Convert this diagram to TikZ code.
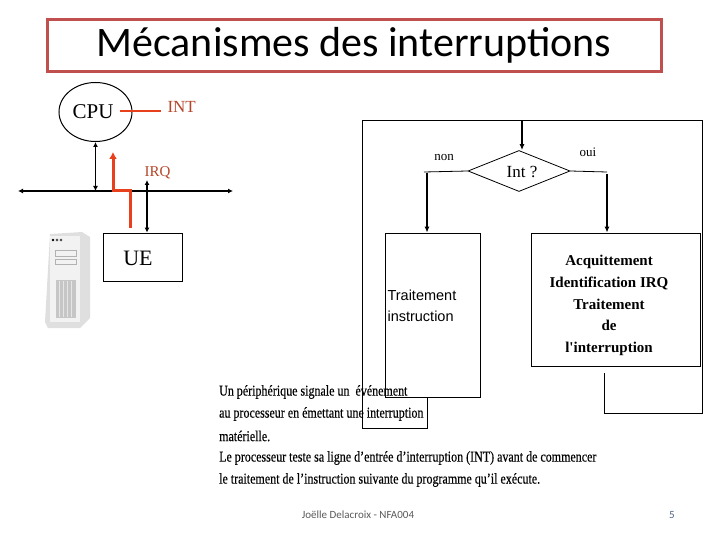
\documentclass[tikz,border=0pt]{standalone}
\usepackage{fontspec}
\setmainfont{Liberation Serif}
\newfontfamily\calfont{Carlito}
\newfontfamily\arsfont{Liberation Sans}
\newfontfamily\plainserif{Liberation Serif}[Ligatures=ResetAll]
\newfontfamily\narrowfont{Liberation Serif}[FakeStretch=0.8,FakeBold=0.3]
\usetikzlibrary{arrows.meta,shapes.geometric}
\definecolor{tred}{HTML}{C0504D}
\definecolor{ored}{HTML}{E8401C}
\definecolor{bred}{HTML}{B5452A}
\begin{document}
\begin{tikzpicture}[x=1pt,y=-1pt,
  ln/.style={line width=0.8pt},
  arr/.style={line width=1.4pt,-{Latex[length=6pt,width=5pt]}},
  darr/.style={line width=1.2pt,{Latex[length=5pt,width=5pt]}-{Latex[length=5pt,width=5pt]}},
  bx/.style={draw,line width=0.8pt,inner sep=0pt},
  sr/.style={font=\narrowfont\fontsize{15}{22}\selectfont,anchor=west,inner sep=0pt}]
\useasboundingbox (0,0) rectangle (720,540);
% title
\node[draw=tred,line width=3pt,minimum width=614pt,minimum height=52pt,inner sep=0pt] (title) at (354,46) {};
\node[font=\calfont\fontsize{42}{46}\selectfont] (tt) at (354,45) {Mécanismes des interruptions};
% CPU
\node[draw,ellipse,line width=1pt,minimum width=73pt,minimum height=59pt,inner sep=0pt] (cpu) at (95.5,112) {};
\node[font=\fontsize{21}{22}\selectfont] (cput) at (93,112) {CPU};
\coordinate (i1) at (120,111); \coordinate (i2) at (161,111);
\draw[ored,line width=1.3pt] (i1) -- (i2);
\node[bred,font=\fontsize{17}{20}\selectfont,anchor=west] (int) at (164,107) {INT};
% bus
\coordinate (b1) at (18,191); \coordinate (b2) at (233,191);
\draw[darr] (b1) -- (b2);
\coordinate (c1) at (95.5,142); \coordinate (c2) at (95.5,191);
\draw[darr] (c1) -- (c2);
% red arrow
\coordinate (r1) at (130,228); \coordinate (r2) at (113,152);
\draw[ored,line width=3pt,-{Latex[length=7pt,width=8pt]}] (r1) |- (121,191) -| (r2);
% UE
\node[bx,minimum width=79pt,minimum height=48pt] (ue) at (142.5,257) {};
\node[font=\fontsize{22}{24}\selectfont] (uet) at (138,258) {UE};
\coordinate (q1) at (147,180);
\draw[darr] (q1) -- (ue.north -| q1);
\node[bred,font=\fontsize{15}{18}\selectfont,anchor=west] (irq) at (141,173) {IRQ};
% computer
\fill[gray!25] (50,234) -- (82,232) -- (90,237) -- (90,318) -- (80,328) -- (48,328) -- (45,322) -- cycle;
\fill[gray!10] (50,236) rectangle (80,322);
\fill[gray!45] (56,280) rectangle (76,318);
\foreach \xx in {59,63,67,71}{\draw[gray!20,line width=1pt] (\xx,281) -- (\xx,317);}
\draw[gray!60] (55,250) rectangle (76,256);
\draw[gray!60] (55,259) rectangle (76,264);
\fill[black] (53,240) circle (1.3); \draw (57,240) circle (1.2); \draw (61,240) circle (1.2);
% flowchart
\coordinate (tl) at (362,120); \coordinate (tr) at (702,120);
\coordinate (bl) at (362,428);
\draw[ln] (bl) -- (tl) -- (tr);
\node[draw,diamond,aspect=2.5,line width=0.8pt,minimum width=102pt,minimum height=41pt,inner sep=0pt] (dia) at (519,171) {};
\node[font=\fontsize{17}{20}\selectfont] (diat) at (522,172) {Int ?};
\coordinate (dtop) at (522,120);
\draw[arr] (dtop) -- (dia.north -| dtop);
\node[bx,minimum width=95pt,minimum height=164pt] (lb) at (432.5,315) {};
\node[bx,minimum width=169pt,minimum height=133pt] (rb) at (615.5,299.5) {};
\coordinate (nl) at (424,172); \coordinate (nr) at (607,172);
\coordinate (na) at (427,173); \coordinate (oa) at (607,174);
\draw[ln] (dia.west) -- (nl);
\draw[arr] (na) -- (lb.north -| na);
\draw[ln] (dia.east) -- (nr);
\draw[arr] (oa) -- (rb.north -| oa);
\node[font=\fontsize{13}{15}\selectfont] (non) at (444,158) {non};
\node[font=\fontsize{13}{15}\selectfont] (oui) at (588,152) {oui};
\node[font=\arsfont\fontsize{14.5}{20.5}\selectfont,align=left,anchor=west] (lbt) at (384,306) {Traitement\\instruction};
\node[font=\plainserif\bfseries\fontsize{15}{21.7}\selectfont,align=center] (rbt) at (609,305.5) {Acquittement\\Identification IRQ\\Traitement\\de\\l'interruption};
\coordinate (lx) at (427,428);
\draw[ln] (lb.south -| lx) -- (lx) -- (bl);
\coordinate (rs) at (604,373); \coordinate (rx) at (604,413); \coordinate (ry) at (702,413);
\draw[ln] (rs) -- (rx) -- (ry) -- (tr);
% text
\node[sr] (t1) at (219,392) {Un périphérique signale un\ \ événement};
\node[sr] (t2) at (219,414) {au processeur en émettant une interruption};
\node[sr] (t3) at (219,436) {matérielle.};
\node[sr] (t4) at (219,458) {Le processeur teste sa ligne d’entrée d’interruption (INT) avant de commencer};
\node[sr] (t5) at (219,480) {le traitement de l’instruction suivante du programme qu’il exécute.};
\node[font=\calfont\fontsize{11}{13}\selectfont,gray!70!black] (ft) at (358,515) {Joëlle Delacroix - NFA004};
\node[font=\calfont\fontsize{11}{13}\selectfont,color={rgb,255:red,80;green,100;blue,130}] (pg) at (672,515) {5};
\end{tikzpicture}
\end{document}
